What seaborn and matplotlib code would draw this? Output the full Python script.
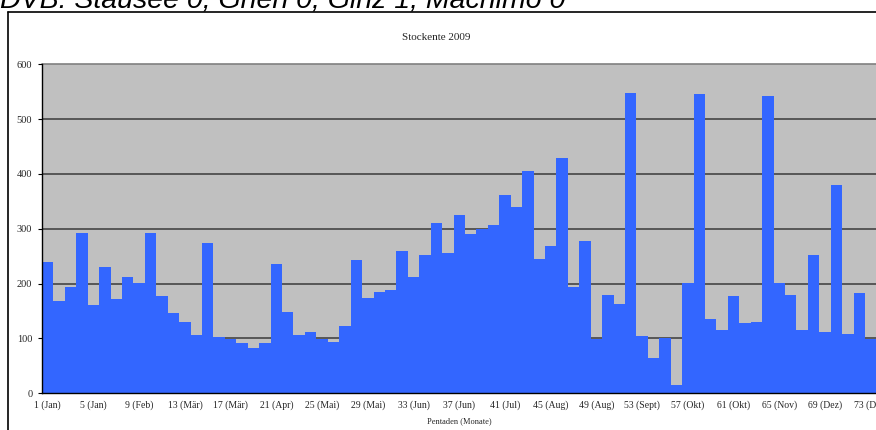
import matplotlib
matplotlib.use("Agg")
import matplotlib.pyplot as plt
from matplotlib.lines import Line2D
import seaborn as sns
import pandas as pd
import numpy as np

pentads = list(range(1, 74))
counts = [240, 169, 194, 293, 161, 230, 172, 212, 201, 293,
          178, 147, 130, 106, 274, 103, 99, 92, 83, 92,
          236, 148, 106, 112, 99, 94, 123, 243, 174, 185,
          188, 260, 212, 252, 311, 255, 325, 290, 300, 307,
          362, 340, 406, 245, 269, 429, 194, 278, 99, 179,
          163, 548, 105, 64, 101, 15, 201, 546, 136, 116,
          178, 128, 130, 542, 201, 179, 116, 252, 112, 380,
          108, 183, 99]
tick_labels = ["1 (Jan)", "5 (Jan)", "9 (Feb)", "13 (Mär)", "17 (Mär)", "21 (Apr)",
               "25 (Mai)", "29 (Mai)", "33 (Jun)", "37 (Jun)", "41 (Jul)", "45 (Aug)",
               "49 (Aug)", "53 (Sept)", "57 (Okt)", "61 (Okt)", "65 (Nov)", "69 (Dez)",
               "73 (Dez)"]
y_ticks = [0, 100, 200, 300, 400, 500, 600]

df = pd.DataFrame({"Pentade": pentads, "Anzahl": counts})

sns.set_style("white")
plt.rcParams["font.family"] = ["Liberation Serif", "DejaVu Serif"]

W, H = 876, 430
fig = plt.figure(figsize=(W / 100, H / 100), dpi=100)

# outer frame of the chart object
fig.add_artist(Line2D([8 / W, 8 / W], [1 - 12 / H, 0], transform=fig.transFigure,
                      color="black", lw=1.2))
fig.add_artist(Line2D([8 / W, 1.0], [1 - 12 / H, 1 - 12 / H], transform=fig.transFigure,
                      color="black", lw=1.2))

# clipped page header
fig.text(0 / W, 1 - 7.5 / H, "DVB: Stausee 0, Grien 0, Ginz 1, Machimo 0",
         family=["Liberation Sans", "DejaVu Sans"], style="italic", fontsize=20.5,
         ha="left", va="baseline", color="black")

ax_left, ax_right = 42, 876.5
ax_top, ax_bottom = 64.3, 393.3
ax = fig.add_axes([ax_left / W, 1 - ax_bottom / H,
                   (ax_right - ax_left) / W, (ax_bottom - ax_top) / H])
ax.set_facecolor("#C0C0C0")

sns.barplot(data=df, x="Pentade", y="Anzahl", color="#3366FF", saturation=1,
            width=1.0, linewidth=0, ax=ax, order=pentads)

ax.set_xlim(-0.5, 72.5)
ax.set_ylim(0, 600)
ax.set_axisbelow(True)
for v in y_ticks[1:-1]:
    ax.axhline(v, color="#3a3a3a", lw=1.1, zorder=0.5)

ax.set_yticks(y_ticks)
ax.set_yticklabels([str(v) for v in y_ticks], fontsize=7.5)

# tick marks at category boundaries, labels every 4th pentade
ax.set_xticks(np.arange(-0.5, 73, 1.0))
ax.set_xticklabels([])
label_pos = [pentads.index(int(t.split()[0])) for t in tick_labels]
ax.set_xticks(label_pos, minor=True)
ax.set_xticklabels(tick_labels, minor=True, fontsize=7)
ax.tick_params(axis="x", which="major", length=3, width=0.8, color="black", direction="out")
ax.tick_params(axis="x", which="minor", length=0, pad=5)
ax.tick_params(axis="y", length=3, width=0.8, color="black", pad=4, direction="out",
               left=True)

for s in ["top", "right"]:
    ax.spines[s].set_visible(False)
ax.spines["left"].set_color("black")
ax.spines["left"].set_linewidth(1.0)
ax.spines["bottom"].set_color("black")
ax.spines["bottom"].set_linewidth(1.0)
ax.axhline(600, color="#808080", lw=1.2, zorder=0.5, clip_on=False)

ax.set_ylabel("")
ax.set_xlabel("Pentaden (Monate)", fontsize=6, labelpad=5)

fig.text(436 / W, 1 - 38 / H, "Stockente 2009", fontsize=8, ha="center", va="center")

fig.savefig("out.png", dpi=100)
